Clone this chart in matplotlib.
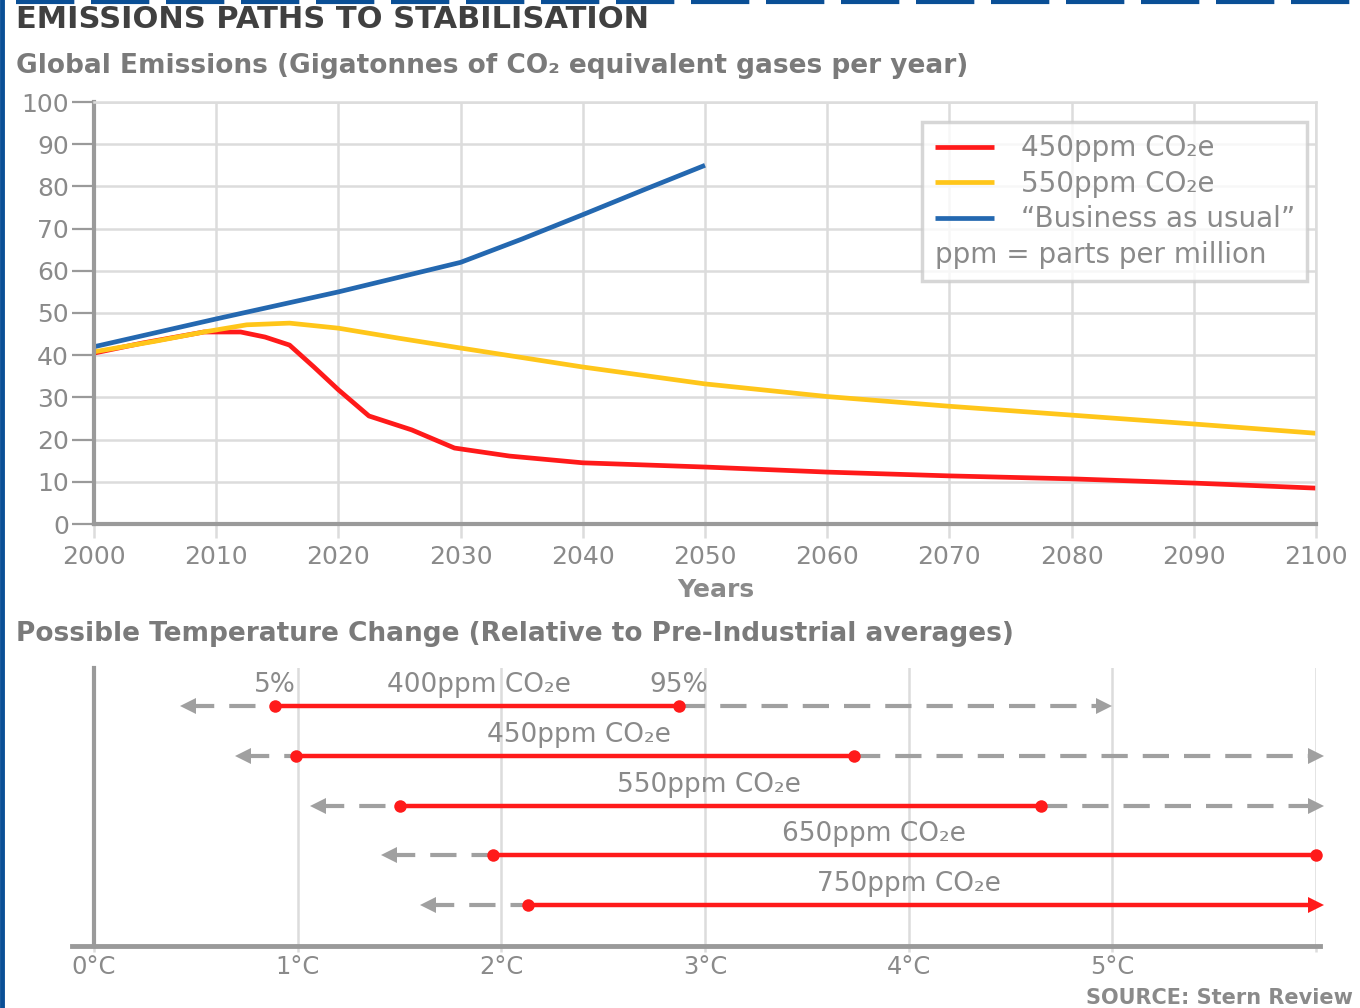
import numpy as np
import matplotlib
matplotlib.use("Agg")
import matplotlib.pyplot as plt
from matplotlib.lines import Line2D

# ---- emissions paths (Gt CO2e per year) ----
years_450 = [2000, 2004, 2009, 2012, 2014, 2016, 2018, 2020, 2022.5, 2026, 2029.5,
             2034, 2040, 2050, 2060, 2070, 2080, 2090, 2100]
em_450 = [40.5, 42.9, 45.5, 45.5, 44.3, 42.4, 37.2, 31.8, 25.6, 22.3, 18.0,
          16.1, 14.5, 13.5, 12.3, 11.4, 10.7, 9.7, 8.5]

years_550 = [2000, 2005, 2009, 2012.5, 2016, 2020, 2025, 2030, 2040, 2050,
             2060, 2070, 2080, 2090, 2100]
em_550 = [40.8, 43.3, 45.5, 47.2, 47.6, 46.4, 44.0, 41.7, 37.2, 33.2,
          30.2, 27.9, 25.8, 23.7, 21.5]

years_bau = [2000, 2005, 2010, 2015, 2020, 2025, 2030, 2035, 2040, 2045, 2050]
em_bau = [42.0, 45.3, 48.6, 51.8, 55.0, 58.5, 62.0, 67.5, 73.3, 79.2, 85.0]

series_labels = ['450ppm CO₂e', '550ppm CO₂e', '\u201cBusiness as usual\u201d']

# ---- temperature ranges (deg C) ----
scenarios = ['400ppm CO₂e', '450ppm CO₂e', '550ppm CO₂e', '650ppm CO₂e', '750ppm CO₂e']
low_tail = [0.46, 0.73, 1.10, 1.45, 1.64]
p5 = [0.89, 0.99, 1.50, 1.96, 2.13]
p95 = [2.87, 3.73, 4.65, 6.0, 6.0]
high_tail = [4.96, 6.0, 6.0, np.nan, np.nan]
open_end = [False, False, False, False, True]
label_x = [1.89, 2.38, 3.02, 3.83, 4.0]
temp_ticks = [0, 1, 2, 3, 4, 5]

RED = '#ff1a1a'
YELLOW = '#ffc61a'
BLUE = '#2468b0'
GRAY_TXT = '#8a8a8a'
GRID = '#dcdcdc'
SPINE = '#9a9a9a'

plt.rcParams['font.family'] = ['DejaVu Sans']

fig = plt.figure(figsize=(13.6, 10.08), dpi=100)

# frame bits from the original page
fig.add_artist(Line2D([0.0015, 0.0015], [0, 1], transform=fig.transFigure,
                      color='#0a4f96', lw=3.5))
fig.add_artist(Line2D([0.012, 1.0], [0.9985, 0.9985], transform=fig.transFigure,
                      color='#0a4f96', lw=3, dashes=(14, 4)))

fig.text(0.012, 0.981, 'EMISSIONS PATHS TO STABILISATION', fontsize=22,
         fontweight='bold', color='#404040', va='center')
fig.text(0.012, 0.9345, 'Global Emissions (Gigatonnes of CO₂ equivalent gases per year)',
         fontsize=19, fontweight='bold', color='#7a7a7a', va='center')

# ---------------- top chart ----------------
ax1 = fig.add_axes([94 / 1360, 1 - 524 / 1008, 1222 / 1360, 422 / 1008])
h1, = ax1.plot(years_450, em_450, color=RED, lw=3.4, solid_capstyle='butt')
h2, = ax1.plot(years_550, em_550, color=YELLOW, lw=3.4, solid_capstyle='butt')
h3, = ax1.plot(years_bau, em_bau, color=BLUE, lw=3.4, solid_capstyle='butt')

ax1.set_xlim(2000, 2100)
ax1.set_ylim(0, 100)
ax1.set_xticks(np.arange(2000, 2101, 10))
ax1.set_yticks(np.arange(0, 101, 10))
ax1.grid(True, color=GRID, lw=1.8)
ax1.set_axisbelow(True)
for s in ['top', 'right']:
    ax1.spines[s].set_color(GRID)
    ax1.spines[s].set_linewidth(1.8)
for s in ['left', 'bottom']:
    ax1.spines[s].set_color(SPINE)
    ax1.spines[s].set_linewidth(3)
ax1.tick_params(axis='y', length=16, width=1.6, color=SPINE, labelsize=18,
                labelcolor=GRAY_TXT, pad=2)
ax1.tick_params(axis='x', length=10, width=1.8, color=GRID, labelsize=18,
                labelcolor=GRAY_TXT, pad=5)
fig.text(0.5265, 0.4147, 'Years', fontsize=18, fontweight='bold',
         color=GRAY_TXT, ha='center', va='center')

blank = Line2D([], [], color='none')
leg = ax1.legend([h1, h2, h3, blank], series_labels + ['ppm = parts per million'],
                 loc='upper right', bbox_to_anchor=(0.993, 0.953), fontsize=20,
                 frameon=True, fancybox=False, handlelength=2.15, handletextpad=0.95,
                 labelspacing=0.27, borderpad=0.45, borderaxespad=0)
leg.get_frame().set_edgecolor('#cccccc')
leg.get_frame().set_linewidth(2.5)
for t in leg.get_texts():
    t.set_color(GRAY_TXT)
# last row has no line, its text starts at the left
try:
    row = leg._legend_handle_box.get_children()[0].get_children()[3]
    row.get_children()[0].width = 0
    row.sep = 0
except Exception:
    pass

# ---------------- bottom chart ----------------
fig.text(0.012, 0.371, 'Possible Temperature Change (Relative to Pre-Industrial averages)',
         fontsize=19, fontweight='bold', color='#7a7a7a', va='center')

ax2 = fig.add_axes([94 / 1360, 1 - 946 / 1008, 1222 / 1360, 278 / 1008])
ax2.set_xlim(0, 6)
ax2.set_ylim(0.18, 5.76)
rows = np.arange(len(scenarios), 0, -1)

for i, y in enumerate(rows):
    # uncertain tails
    ax2.plot([low_tail[i], p5[i]], [y, y], color='#a0a0a0', lw=3, dashes=(6.3, 3.6))
    ax2.plot(low_tail[i], y, marker='<', color='#a0a0a0', ms=11, mew=0)
    if not np.isnan(high_tail[i]):
        ax2.plot([p95[i], high_tail[i]], [y, y], color='#a0a0a0', lw=3, dashes=(6.3, 3.6),
                 clip_on=False)
        ax2.plot(high_tail[i], y, marker='>', color='#a0a0a0', ms=11, mew=0, clip_on=False)
    # 5-95% range
    ax2.plot([p5[i], p95[i]], [y, y], color=RED, lw=3.2, solid_capstyle='butt',
             clip_on=False, zorder=3)
    ax2.plot(p5[i], y, marker='o', color=RED, ms=9, mew=0, zorder=4)
    ax2.plot(p95[i], y, marker='>' if open_end[i] else 'o', color=RED,
             ms=12 if open_end[i] else 9, mew=0, clip_on=False, zorder=4)
    ax2.annotate(scenarios[i], (label_x[i], y), xytext=(0, 15),
                 textcoords='offset points', ha='center', va='center',
                 fontsize=19, color=GRAY_TXT)

ax2.annotate('5%', (p5[0], rows[0]), xytext=(0, 15), textcoords='offset points',
             ha='center', va='center', fontsize=19, color=GRAY_TXT)
ax2.annotate('95%', (p95[0], rows[0]), xytext=(0, 15), textcoords='offset points',
             ha='center', va='center', fontsize=19, color=GRAY_TXT)

ax2.set_xticks(temp_ticks + [6])
ax2.set_xticklabels([f'{t}°C' for t in temp_ticks] + [''])
ax2.set_yticks([])
ax2.grid(True, axis='x', color=GRID, lw=1.8)
ax2.set_axisbelow(True)
for s in ['top', 'right', 'bottom']:
    ax2.spines[s].set_visible(False)
ax2.spines['left'].set_color(SPINE)
ax2.spines['left'].set_linewidth(3)
ax2.plot([-0.018, 1.003], [0, 0], transform=ax2.transAxes, color=SPINE, lw=3.5,
         clip_on=False)
ax2.tick_params(axis='x', length=4, width=1.8, color=GRID, labelsize=17.5,
                labelcolor=GRAY_TXT, pad=2.5)

fig.text(0.995, 0.0, 'SOURCE: Stern Review', fontsize=15, fontweight='bold',
         color='#8a8a8a', ha='right', va='bottom')

fig.savefig('out.png', dpi=100)
